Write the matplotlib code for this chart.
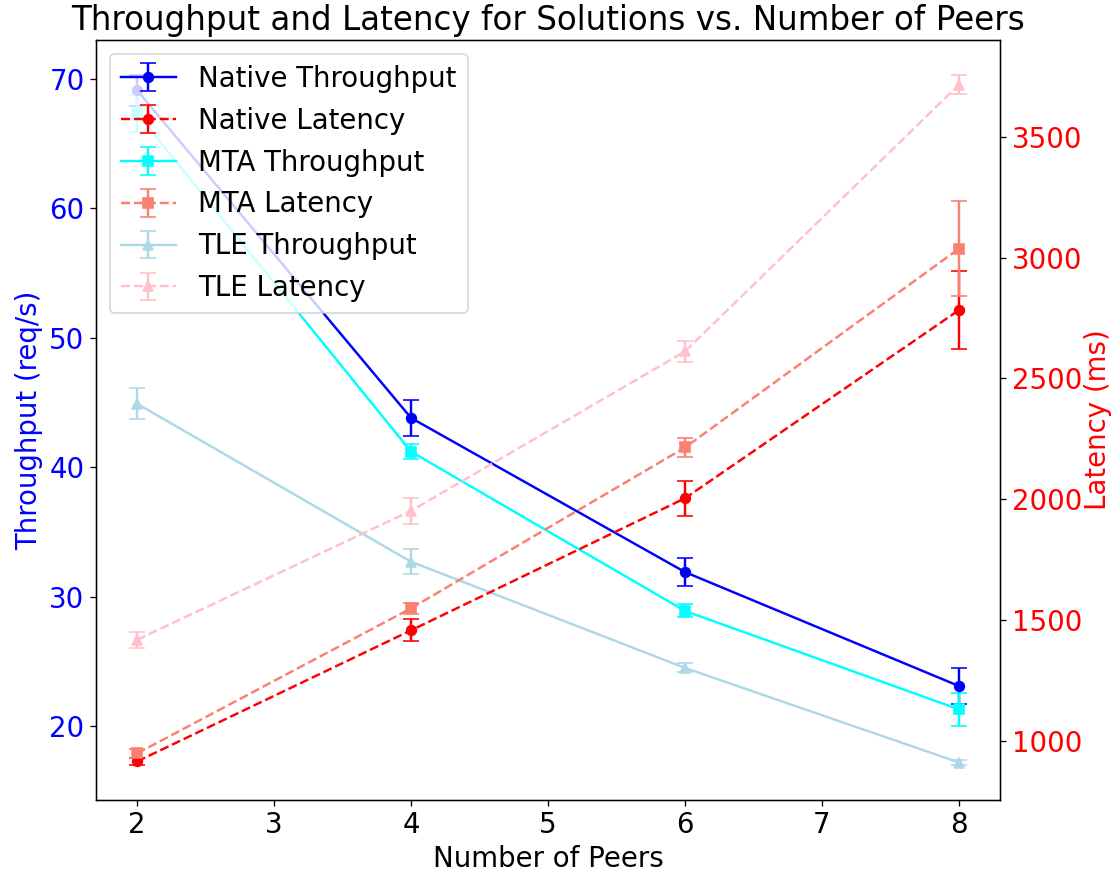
import matplotlib
matplotlib.use('Agg')
import matplotlib.pyplot as plt

peers = [2, 4, 6, 8]

native_tp = [69.1, 43.8, 31.9, 23.1]
native_tp_err = [1.2, 1.4, 1.1, 1.4]
mta_tp = [67.3, 41.2, 28.9, 21.3]
mta_tp_err = [1.4, 0.55, 0.5, 1.3]
tle_tp = [44.9, 32.7, 24.5, 17.2]
tle_tp_err = [1.2, 0.95, 0.35, 0.2]

native_lat = [917, 1459, 2005, 2783]
native_lat_err = [15, 45, 72, 163]
mta_lat = [950, 1550, 2215, 3037]
mta_lat_err = [20, 23, 41, 198]
tle_lat = [1420, 1953, 2612, 3715]
tle_lat_err = [34, 55, 45, 41]

fig, ax1 = plt.subplots(figsize=(1115 / 117, 872 / 117), dpi=117)
plt.subplots_adjust(left=0.086, right=0.897, top=0.954, bottom=0.083)
ax2 = ax1.twinx()

h1 = ax1.errorbar(peers, native_tp, yerr=native_tp_err, color='blue', marker='o',
                  capsize=5, label='Native Throughput')
h3 = ax1.errorbar(peers, mta_tp, yerr=mta_tp_err, color='cyan', marker='s',
                  capsize=5, label='MTA Throughput')
h5 = ax1.errorbar(peers, tle_tp, yerr=tle_tp_err, color='lightblue', marker='^',
                  capsize=5, label='TLE Throughput')

h2 = ax2.errorbar(peers, native_lat, yerr=native_lat_err, color='red', marker='o',
                  capsize=5, linestyle='--', label='Native Latency')
h4 = ax2.errorbar(peers, mta_lat, yerr=mta_lat_err, color='salmon', marker='s',
                  capsize=5, linestyle='--', label='MTA Latency')
h6 = ax2.errorbar(peers, tle_lat, yerr=tle_lat_err, color='pink', marker='^',
                  capsize=5, linestyle='--', label='TLE Latency')

ax1.set_xlabel('Number of Peers', fontsize=17)
ax1.set_ylabel('Throughput (req/s)', color='blue', fontsize=17)
ax2.set_ylabel('Latency (ms)', color='red', fontsize=17, labelpad=1)
ax1.tick_params(axis='y', labelcolor='blue', labelsize=17)
ax1.tick_params(axis='x', labelsize=17)
ax2.tick_params(axis='y', labelcolor='red', labelsize=17)

plt.title('Throughput and Latency for Solutions vs. Number of Peers', fontsize=20)

handles = [h1, h2, h3, h4, h5, h6]
labels = [h.get_label() for h in handles]
ax2.legend(handles, labels, loc='upper left', fontsize=17)

plt.savefig('out.png')
